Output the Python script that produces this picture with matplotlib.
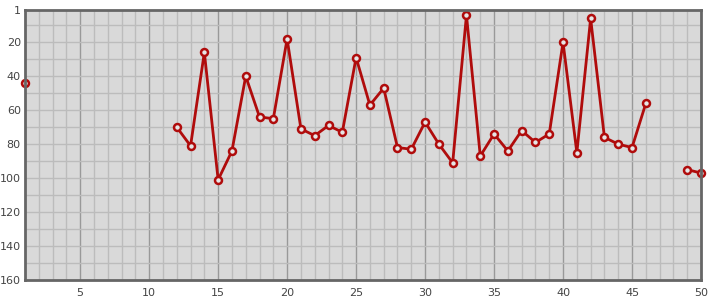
import numpy as np
from matplotlib import pyplot as plt

# rank per position, None = no value
positions = list(range(1, 51))
ranks = [44, None, None, None, None, None, None, None, None, None,
         None, 70, 81, 26, 101, 84, 40, 64, 65, 18,
         71, 75, 69, 73, 29, 57, 47, 82, 83, 67,
         80, 91, 4, 87, 74, 84, 72, 79, 74, 20,
         85, 6, 76, 80, 82, 56, None, None, 95, 97]
x_ticks = [5, 10, 15, 20, 25, 30, 35, 40, 45, 50]
y_ticks = [1, 20, 40, 60, 80, 100, 120, 140, 160]

y = np.array([np.nan if r is None else r for r in ranks], dtype=float)

fig = plt.figure(figsize=(7.15, 3.0), dpi=100)
ax = fig.add_axes([25 / 715, 20 / 300, 676 / 715, 270 / 300])
ax.set_facecolor('#d9d9d9')

# grid: every 1 on x, every 10 on y, darker every 5 on x
for gx in range(2, 50):
    c = '#999999' if gx % 5 == 0 else '#bcbcbc'
    ax.axvline(gx, color=c, lw=1, zorder=1)
for gy in range(10, 160, 10):
    ax.axhline(gy, color='#bcbcbc', lw=1, zorder=1)

ax.plot(positions, y, color='#b00c0c', lw=2, marker='o', ms=5,
        mfc='#e6e6e6', mec='#b00c0c', mew=1.8, zorder=3, clip_on=False)

ax.set_xlim(1, 50)
ax.set_ylim(160, 1)
ax.set_xticks(x_ticks)
ax.set_yticks(y_ticks)
ax.tick_params(length=0, labelsize=8, colors='#444444')
ax.tick_params(axis='y', pad=3)
ax.tick_params(axis='x', pad=6)
for s in ax.spines.values():
    s.set_color('#666666')
    s.set_linewidth(2)
    s.set_zorder(4)

fig.savefig('out.png', dpi=100)
